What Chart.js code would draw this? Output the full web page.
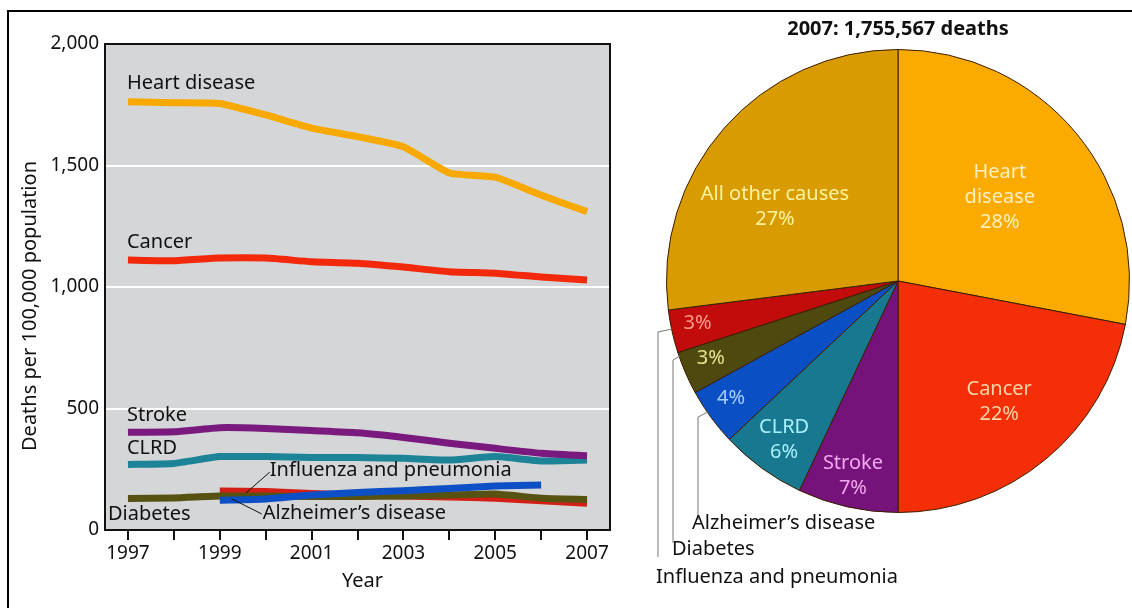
<!DOCTYPE html>
<html>
<head>
<meta charset="utf-8">
<script src="https://cdn.jsdelivr.net/npm/chart.js@4.4.1/dist/chart.umd.min.js"></script>
<style>
  body { margin: 0; background: #fff; width: 1132px; height: 608px; overflow: hidden; position: relative; }
  #frame { position: absolute; left: 7px; top: 10px; width: 1130px; height: 600px; border-top: 2px solid #000; border-left: 2px solid #000; }
  .box { position: absolute; top: 0; height: 608px; }
</style>
</head>
<body>
<div id="frame"></div>
<div class="box" style="left:0;width:620px"><canvas id="lineChart"></canvas></div>
<div class="box" style="left:620px;width:512px"><canvas id="pieChart"></canvas></div>
<script>
const FONT = "'Noto Sans', 'DejaVu Sans', sans-serif";

// left chart: deaths per 100,000 population, 1997-2007
const years = ['1997', '1998', '1999', '2000', '2001', '2002', '2003', '2004', '2005', '2006', '2007'];
const heartDisease = [1762, 1758, 1755, 1708, 1654, 1619, 1577, 1469, 1452, 1378, 1310];
const cancer = [1111, 1108, 1119, 1119, 1104, 1098, 1082, 1063, 1057, 1041, 1029];
const stroke = [402, 404, 421, 418, 409, 400, 381, 357, 336, 316, 305];
const clrd = [270, 274, 302, 302, 298, 298, 295, 288, 302, 284, 288];
const alzheimers = [null, null, 122, 128, 144, 154, 162, 171, 181, 185, null];
const diabetes = [130, 132, 140, 140, 138, 138, 140, 144, 148, 131, 126];
const influenza = [null, null, 160, 158, 150, 145, 140, 136, 131, 120, 110];
const yTicks = [0, 500, 1000, 1500, 2000];

// right chart: 2007 shares
const pieTitle = '2007: 1,755,567 deaths';
const pieLabels = ['Heart disease', 'Cancer', 'Stroke', 'CLRD', 'Alzheimer’s disease', 'Diabetes', 'Influenza and pneumonia', 'All other causes'];
const pieShares = [28, 22, 7, 6, 4, 3, 3, 27];
const pieColors = ['#fbaa00', '#f42e06', '#75137a', '#17788f', '#0a4fc4', '#4e4a0f', '#c20c0c', '#d89c00'];

function line(label, data, color) {
  return { label, data, borderColor: color, borderWidth: 7, pointRadius: 0, tension: 0.15, spanGaps: false, borderCapStyle: 'butt' };
}

// gray plot area, black frame, in-chart labels
const lineDecor = {
  id: 'lineDecor',
  beforeDraw(chart) {
    const { ctx, chartArea: a } = chart;
    ctx.save();
    ctx.fillStyle = '#d5d6d8';
    ctx.fillRect(a.left, a.top, a.right - a.left, a.bottom - a.top);
    ctx.restore();
  },
  afterDraw(chart) {
    const { ctx, chartArea: a, scales: { x, y } } = chart;
    ctx.save();
    ctx.strokeStyle = '#111';
    ctx.lineWidth = 2;
    ctx.strokeRect(a.left, a.top, a.right - a.left, a.bottom - a.top);

    ctx.fillStyle = '#111';
    ctx.font = '20px ' + FONT;
    ctx.textBaseline = 'middle';
    ctx.textAlign = 'left';
    const x0 = x.getPixelForValue(0);
    ctx.fillText('Heart disease', x0 - 1, y.getPixelForValue(1840));
    ctx.fillText('Cancer', x0 - 1, y.getPixelForValue(1182));
    ctx.fillText('Stroke', x0 - 1, y.getPixelForValue(470));
    ctx.fillText('CLRD', x0 - 1, y.getPixelForValue(338));
    ctx.fillText('Diabetes', a.left + 3, y.getPixelForValue(64));
    const x2 = x.getPixelForValue(2);
    ctx.fillText('Influenza and pneumonia', x2 + 50, y.getPixelForValue(245));
    ctx.fillText('Alzheimer’s disease', x2 + 43, y.getPixelForValue(68));
    ctx.lineWidth = 1;
    ctx.beginPath();
    ctx.moveTo(x2 + 26, y.getPixelForValue(152));
    ctx.lineTo(x2 + 50, y.getPixelForValue(238));
    ctx.moveTo(x2 + 12, y.getPixelForValue(128));
    ctx.lineTo(x2 + 42, y.getPixelForValue(66));
    ctx.stroke();

    // axis titles
    ctx.font = '20px ' + FONT;
    ctx.textAlign = 'center';
    ctx.fillText('Year', (a.left + a.right) / 2 + 5, 581);
    ctx.translate(30, (a.top + a.bottom) / 2 + 19);
    ctx.rotate(-Math.PI / 2);
    ctx.fillText('Deaths per 100,000 population', 0, 0);
    ctx.restore();
  }
};

new Chart(document.getElementById('lineChart'), {
  type: 'line',
  data: {
    labels: years,
    datasets: [
      line('Heart disease', heartDisease, '#f8a900'),
      line('Cancer', cancer, '#f2290a'),
      line('Stroke', stroke, '#7a1a7e'),
      line('CLRD', clrd, '#1d8497'),
      line('Alzheimer’s disease', alzheimers, '#0d4fc4'),
      line('Diabetes', diabetes, '#575212'),
      line('Influenza and pneumonia', influenza, '#d41f16')
    ]
  },
  options: {
    responsive: true,
    maintainAspectRatio: false,
    animation: false,
    layout: { padding: { top: 44, right: 10, left: 0, bottom: 0 } },
    plugins: { legend: { display: false }, tooltip: { enabled: false } },
    scales: {
      x: {
        type: 'category',
        offset: true,
        afterFit: s => { s.height = 78; },
        border: { display: false },
        grid: { drawOnChartArea: false, drawTicks: true, tickLength: 10, color: '#111', lineWidth: 2 },
        ticks: {
          autoSkip: false, maxRotation: 0, padding: 2, color: '#111',
          font: { family: FONT, size: 19 },
          callback: (v, i) => (i % 2 === 0 ? years[i] : '')
        }
      },
      y: {
        min: 0,
        max: 2000,
        afterFit: s => { s.width = 105; },
        afterBuildTicks: s => { s.ticks = yTicks.map(v => ({ value: v })); },
        border: { display: false },
        grid: { color: '#ffffff', lineWidth: 2, drawTicks: false },
        ticks: {
          padding: 6, color: '#111',
          font: { family: FONT, size: 19 },
          callback: v => v.toLocaleString('en-US')
        }
      }
    }
  },
  plugins: [lineDecor]
});

// slice labels: angle (deg, clockwise from 3 o'clock), radius fraction, text colour
const sliceText = [
  { ang: -39.5, r: 0.57, color: '#fff0c0', lines: ['Heart', 'disease', '28%'] },
  { ang: 50, r: 0.68, color: '#ffd4a8', lines: ['Cancer', '22%'] },
  { ang: 103, r: 0.865, color: '#f4a8f0', lines: ['Stroke', '7%'] },
  { ang: 125.6, r: 0.845, color: '#a8f0ff', lines: ['CLRD', '6%'] },
  { ang: 145, r: 0.88, color: '#a8ccff', lines: ['4%'] },
  { ang: 157.5, r: 0.875, color: '#e6e28e', lines: ['3%'] },
  { ang: 168, r: 0.885, color: '#ff9a8e', lines: ['3%'] },
  { ang: 211, r: 0.62, color: '#fff3a0', lines: ['All other causes', '27%'] }
];

const pieDecor = {
  id: 'pieDecor',
  afterDraw(chart) {
    const { ctx } = chart;
    const arc = chart.getDatasetMeta(0).data[0];
    const cx = arc.x, cy = arc.y, R = arc.outerRadius;
    ctx.save();
    ctx.fillStyle = '#111';
    ctx.font = 'bold 20px ' + FONT;
    ctx.textAlign = 'center';
    ctx.textBaseline = 'middle';
    ctx.fillText(pieTitle, cx, cy - R - 20);

    ctx.font = '20px ' + FONT;
    sliceText.forEach(t => {
      const a = t.ang * Math.PI / 180;
      const px = cx + Math.cos(a) * R * t.r;
      const py = cy + Math.sin(a) * R * t.r;
      ctx.fillStyle = t.color;
      const h = 25;
      t.lines.forEach((s, i) => ctx.fillText(s, px, py + (i - (t.lines.length - 1) / 2) * h));
    });

    // outside labels with leader lines for the three small slices
    ctx.strokeStyle = '#777';
    ctx.lineWidth = 1;
    ctx.beginPath();
    ctx.moveTo(cx - 226, cy + 48); ctx.lineTo(cx - 240, cy + 51); ctx.lineTo(cx - 240, cy + 276);
    ctx.moveTo(cx - 218, cy + 75); ctx.lineTo(cx - 225, cy + 79); ctx.lineTo(cx - 225, cy + 262);
    ctx.moveTo(cx - 190, cy + 131); ctx.lineTo(cx - 200, cy + 136); ctx.lineTo(cx - 200, cy + 239);
    ctx.stroke();
    ctx.fillStyle = '#111';
    ctx.textAlign = 'left';
    ctx.font = '20px ' + FONT;
    ctx.fillText(pieLabels[4], cx - 206, cy + 242);
    ctx.fillText(pieLabels[5], cx - 226, cy + 268);
    ctx.fillText(pieLabels[6], cx - 242, cy + 296);
    ctx.restore();
  }
};

new Chart(document.getElementById('pieChart'), {
  type: 'pie',
  data: {
    labels: pieLabels,
    datasets: [{
      data: pieShares,
      backgroundColor: pieColors,
      borderColor: '#3a1e00',
      borderWidth: 1,
      hoverOffset: 0
    }]
  },
  options: {
    responsive: true,
    maintainAspectRatio: false,
    animation: false,
    layout: { padding: { left: 46, right: 2, top: 49, bottom: 95 } },
    plugins: { legend: { display: false }, tooltip: { enabled: false } }
  },
  plugins: [pieDecor]
});
</script>
</body>
</html>
